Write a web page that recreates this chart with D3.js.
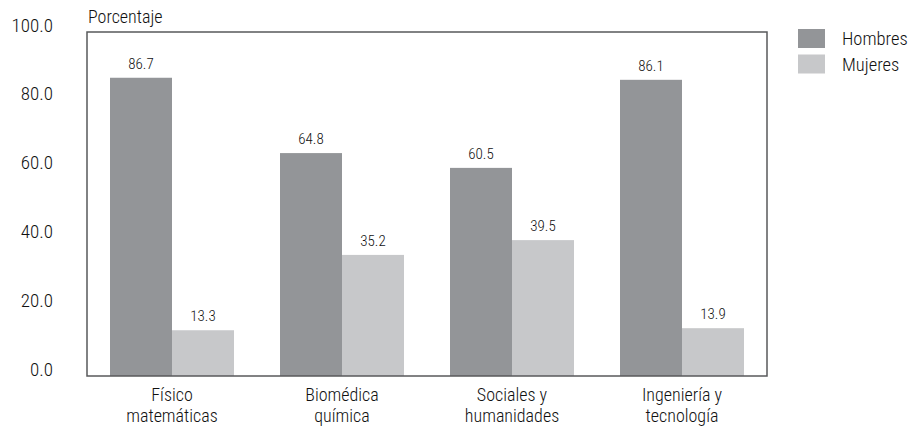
<!DOCTYPE html>
<html><head><meta charset="utf-8">
<script src="https://cdn.jsdelivr.net/npm/d3@7"></script>
<style>
body{margin:0;background:#fff;}
svg text{font-family:"Liberation Sans Narrow","Roboto Condensed","Liberation Sans",sans-serif;fill:#111;font-weight:300;}
</style></head>
<body><svg id="c" width="912" height="428"></svg>
<script>
const categories = [["Físico","matemáticas"],["Biomédica","química"],["Sociales y","humanidades"],["Ingeniería y","tecnología"]];
const seriesNames = ["Hombres","Mujeres"];
const hombres = [86.7, 64.8, 60.5, 86.1];
const mujeres = [13.3, 35.2, 39.5, 13.9];
const yTicks = [0, 20, 40, 60, 80, 100];
const colors = ["#939598","#c7c8ca"];

const svg = d3.select("#c");
const L = 87, R = 767, T = 32, B = 376;
const x = d3.scaleBand().domain(d3.range(categories.length)).range([L, R]).paddingInner(0).paddingOuter(0);
const xs = d3.scaleBand().domain([0,1]).range([0, 124]);
const y = d3.scaleLinear().domain([0, 100]).range([B, T]);
const off = (x.bandwidth() - 124) / 2;

const data = [];
categories.forEach((c,i)=>{ data.push({i, s:0, v:hombres[i]}); data.push({i, s:1, v:mujeres[i]}); });
svg.append("g").selectAll("rect").data(data).join("rect")
  .attr("x", d => x(d.i) + off + xs(d.s))
  .attr("width", xs.bandwidth())
  .attr("y", d => y(d.v))
  .attr("height", d => B - y(d.v))
  .attr("fill", d => colors[d.s]);

svg.append("g").selectAll("text").data(data).join("text")
  .attr("x", d => x(d.i) + off + xs(d.s) + xs.bandwidth()/2)
  .attr("y", d => y(d.v) - 9)
  .attr("text-anchor","middle")
  .attr("font-size", 15)
  .text(d => d.v.toFixed(1));

svg.append("rect").attr("x", L).attr("y", T).attr("width", R-L).attr("height", B-T)
  .attr("fill","none").attr("stroke","#58595b").attr("stroke-width",1.5);

const yAxis = d3.axisLeft(y).tickValues(yTicks).tickFormat(d3.format(".1f")).tickSize(0).tickPadding(34);
const ga = svg.append("g").attr("transform",`translate(${L},0)`).call(yAxis);
ga.select(".domain").remove();
ga.attr("font-family",null).attr("font-size",null);
ga.selectAll("text").attr("font-size",19).attr("dy","-0.05em").attr("fill","#111");

const gx = svg.append("g");
categories.forEach((c,i)=>{
  const cx = x(i)+x.bandwidth()/2;
  const t = gx.append("text").attr("x", cx).attr("y", 401).attr("text-anchor","middle").attr("font-size",18);
  c.forEach((line,k)=> t.append("tspan").attr("x", cx).attr("dy", k? 21:0).text(line));
});

svg.append("text").attr("x", 88).attr("y", 23).attr("font-size",18).text("Porcentaje");

const lg = svg.append("g");
seriesNames.forEach((n,k)=>{
  lg.append("rect").attr("x",798).attr("y",29+k*25.5).attr("width",27).attr("height",19).attr("fill",colors[k]);
  lg.append("text").attr("x",842).attr("y",45+k*25.5).attr("font-size",18.5).text(n);
});
</script></body></html>
